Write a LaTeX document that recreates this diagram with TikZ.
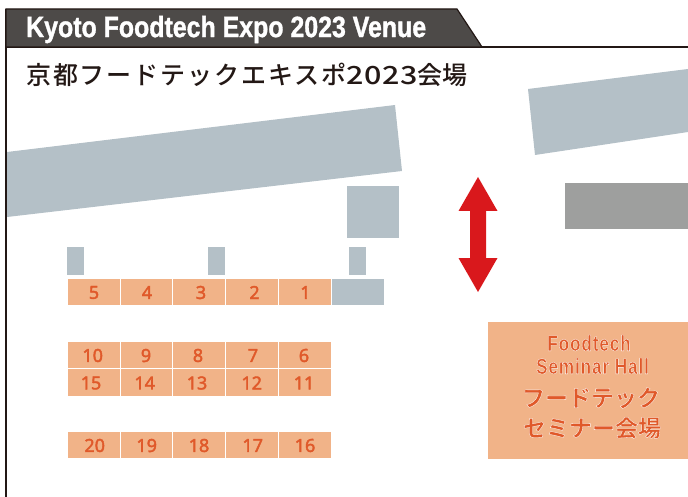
\documentclass[tikz,border=0pt]{standalone}
\usepackage{fontspec}
\setmainfont{Noto Sans}
\newfontfamily\cjk[LetterSpace=7.5]{Noto Sans CJK JP Medium}
\newfontfamily\cjkdigits[FakeStretch=1.22,LetterSpace=3]{Noto Sans CJK JP Medium}
\newfontfamily\cjktail{Noto Sans CJK JP Medium}
\newfontfamily\cjkbold{Noto Sans CJK JP Bold}
\newfontfamily\headfont[FakeStretch=0.85]{Liberation Sans Bold}
\newfontfamily\hallfont[FakeStretch=0.78,LetterSpace=4]{Liberation Sans Bold}
\newcommand{\halo}[1]{\special{pdf:code q 2 Tr 0.3 w 1 1 1 RG}#1\special{pdf:code 0 Tr Q}}
\newcommand{\thick}[1]{\special{pdf:code q 2 Tr 0.4 w 0.878 0.349 0.165 RG}#1\special{pdf:code 0 Tr Q}}
\newcommand{\heavy}[1]{\special{pdf:code q 2 Tr 0.35 w 1 1 1 RG}#1\special{pdf:code 0 Tr Q}}
\definecolor{boothfill}{HTML}{F1B388}
\definecolor{boothtext}{HTML}{E0592A}
\definecolor{roadgray}{HTML}{B4C0C7}
\definecolor{darkgray}{HTML}{9E9F9E}
\definecolor{headfill}{HTML}{4D4A48}
\definecolor{arrowred}{HTML}{D9181C}
\definecolor{inkdark}{HTML}{231815}
\tikzset{
  x=1pt,y=-1pt,
  road/.style={fill=roadgray,draw=none},
  booth/.style={fill=boothfill,draw=none,minimum width=51.5pt,minimum height=26.5pt,inner sep=0pt,anchor=center},
  boothlabel/.style={inner sep=0pt,anchor=center,text=boothtext,font=\fontsize{18}{18}\selectfont},
  halllabel/.style={inner sep=0pt,text=boothtext},
}
% number, box x, box y, text x
\newcommand{\booth}[4]{\node[booth] (b#1) at (#2,#3) {};\node[boothlabel] (t#1) at (#4,#3+0.5) {\thick{#1}};}
\begin{document}
\begin{tikzpicture}
\useasboundingbox (0,0) rectangle (688,497);
% frame and title
\draw[inkdark,line width=1.6pt] (6,9) -- (6,497);
\draw[inkdark,line width=1.6pt] (6,47) -- (688,47);
\draw[fill=headfill,draw=inkdark,line width=1.2pt,line join=miter] (6,9) -- (457,9) -- (482,47) -- (6,47) -- cycle;
\node[anchor=west,inner sep=0pt,text=white,font=\headfont\fontsize{29.3}{29.3}\selectfont] (title) at (26,29.5) {\heavy{Kyoto Foodtech Expo 2023 Venue}};
\node[anchor=base west,inner sep=0pt,text=inkdark,font=\fontsize{25}{25}\selectfont] (subtitle) at (26,85) {\cjk 京都フードテックエキスポ\cjkdigits 2023\cjktail 会場};
% roads and buildings
\fill[road] (7,152) -- (395,105) -- (402,171) -- (7,217) -- cycle;
\fill[road] (528,89) -- (688,69) -- (688,132) -- (535,155) -- cycle;
\fill[road] (347,186) rectangle (399,238);
\fill[darkgray] (565,183) rectangle (688,229);
\fill[road] (67,247) rectangle (84,275);
\fill[road] (208,247) rectangle (225,275);
\fill[road] (349,247) rectangle (366,275);
\fill[road] (332,279) rectangle (384,305);
% booths
\booth{5}{94}{292}{94}\booth{4}{146.5}{292}{147}\booth{3}{199}{292}{201}\booth{2}{252}{292}{254.5}\booth{1}{305}{292}{305.5}
\booth{10}{94}{355}{92.7}\booth{9}{146.5}{355}{146}\booth{8}{199}{355}{198}\booth{7}{252}{355}{253}\booth{6}{305}{355}{304}
\booth{15}{94}{382.5}{91}\booth{14}{146.5}{382.5}{144.7}\booth{13}{199}{382.5}{197}\booth{12}{252}{382.5}{251.7}\booth{11}{305}{382.5}{304}
\booth{20}{94}{445}{94.7}\booth{19}{146.5}{445}{146.7}\booth{18}{199}{445}{199}\booth{17}{252}{445}{252.7}\booth{16}{305}{445}{305}
% red arrow
\fill[arrowred] (478,177) -- (497.5,211) -- (486,211) -- (486,258) -- (497.5,258) -- (478,292) -- (458.5,258) -- (470,258) -- (470,211) -- (458.5,211) -- cycle;
% seminar hall
\fill[boothfill] (488,322) rectangle (688,459);
\node[halllabel,font=\hallfont\fontsize{22}{22}\selectfont] (hall1) at (589,343) {\halo{Foodtech}};
\node[halllabel,font=\hallfont\fontsize{22}{22}\selectfont] (hall2) at (592.5,366) {\halo{Seminar Hall}};
\node[halllabel,font=\cjkbold\fontsize{23}{23}\selectfont] (hall3) at (591,398) {\halo{フードテック}};
\node[halllabel,font=\cjkbold\fontsize{23}{23}\selectfont] (hall4) at (592,428) {\halo{セミナー会場}};
\end{tikzpicture}
\end{document}
